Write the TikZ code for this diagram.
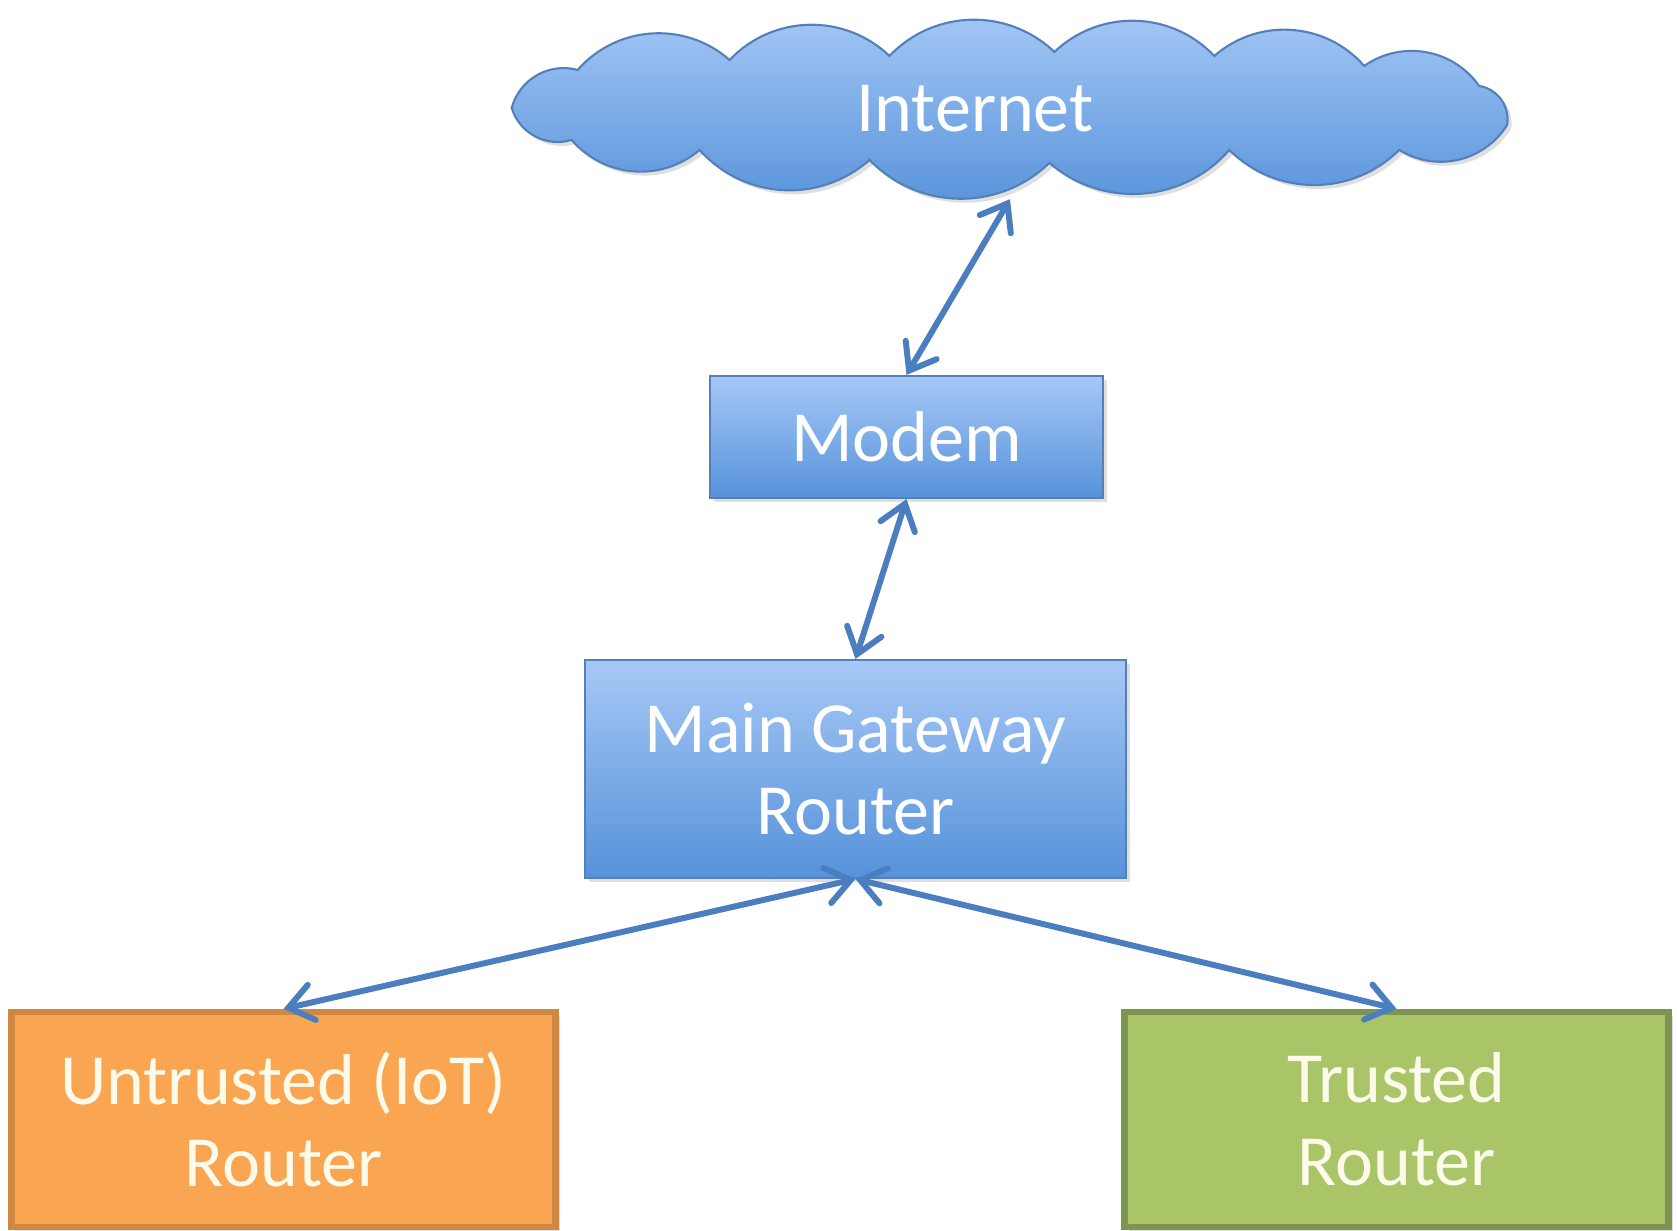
\documentclass[tikz,border=0pt]{standalone}
\usepackage{fontspec}
\setmainfont{Carlito}
\usetikzlibrary{shadows, arrows.meta}
\definecolor{bluetop}{RGB}{166,200,246}
\definecolor{bluebot}{RGB}{86,146,218}
\definecolor{blueline}{RGB}{84,128,185}
\definecolor{arrowblue}{RGB}{74,126,190}
\definecolor{orangefill}{RGB}{249,165,82}
\definecolor{orangeline}{RGB}{206,136,66}
\definecolor{greenfill}{RGB}{170,196,104}
\definecolor{greenline}{RGB}{124,150,82}
\definecolor{paletext}{RGB}{252,250,232}
\tikzset{shade/.style = {drop shadow = {opacity = 0.25, shadow xshift = 0.04cm, shadow yshift = -0.04cm}},
  bluefill/.style = {draw = blueline, line width = 0.6pt, top color = bluetop, bottom color = bluebot},
  bluebox/.style = {shade, bluefill, rectangle, text = white, align = center, font = \fontsize{20.5}{23.5}\selectfont},
  netbox/.style = {shade, rectangle, line width = 1.8pt, align = center, text = paletext, font = \fontsize{20.5}{23.5}\selectfont, minimum width = 5.44cm, minimum height = 2.15cm},
  link/.style = {arrowblue, line width = 1.7pt, {Straight Barb[length = 2.4mm, width = 3.6mm, line cap = round]}-{Straight Barb[length = 2.4mm, width = 3.6mm, line cap = round]}}}

\begin{document}
\begin{tikzpicture}
    \useasboundingbox (0, 0) rectangle (16.77, -12.31);

    \begin{scope}[x = 0.01cm, y = -0.01cm]
      \path [shade, bluefill] (512, 108) to [bend left = 45] (578, 70) to [bend left = 45] (730, 60)
        to [bend left = 45] (890, 56) to [bend left = 45] (1055, 52) to [bend left = 45] (1215, 56)
        to [bend left = 45] (1365, 66) to [bend left = 45] (1480, 86) to [bend left = 45] (1508, 125)
        to [bend left = 45] (1400, 150) to [bend left = 45] (1230, 150) to [bend left = 45] (1050, 163)
        to [bend left = 45] (870, 160) to [bend left = 45] (700, 150) to [bend left = 45] (572, 140)
        to [bend left = 45] cycle;
    \end{scope}

    \node [rectangle, align = center, text = white, font = \fontsize{20.5}{23.5}\selectfont, minimum width = 10cm, minimum height = 1.8cm] (inet) at (10.10, -1.085) {Internet\hspace{0.7cm}};
    \node [bluebox, minimum width = 3.93cm, minimum height = 1.22cm] (modem) at (9.065, -4.37) {Modem};
    \node [bluebox, minimum width = 5.41cm, minimum height = 2.18cm] (gw) at (8.555, -7.69) {Main Gateway\\Router};

    \node [netbox, fill = orangefill, draw = orangeline] (untrusted) at (2.835, -11.195) {Untrusted (IoT)\\Router};
    \node [netbox, fill = greenfill, draw = greenline] (trusted) at (13.965, -11.195) {Trusted\\Router};

    \draw [link] (inet.south) -- (modem.north);
    \draw [link] (modem.south) -- (gw.north);
    \draw [link] (gw.south) -- (untrusted.north);
    \draw [link] (gw.south) -- (trusted.north);
\end{tikzpicture}
\end{document}
